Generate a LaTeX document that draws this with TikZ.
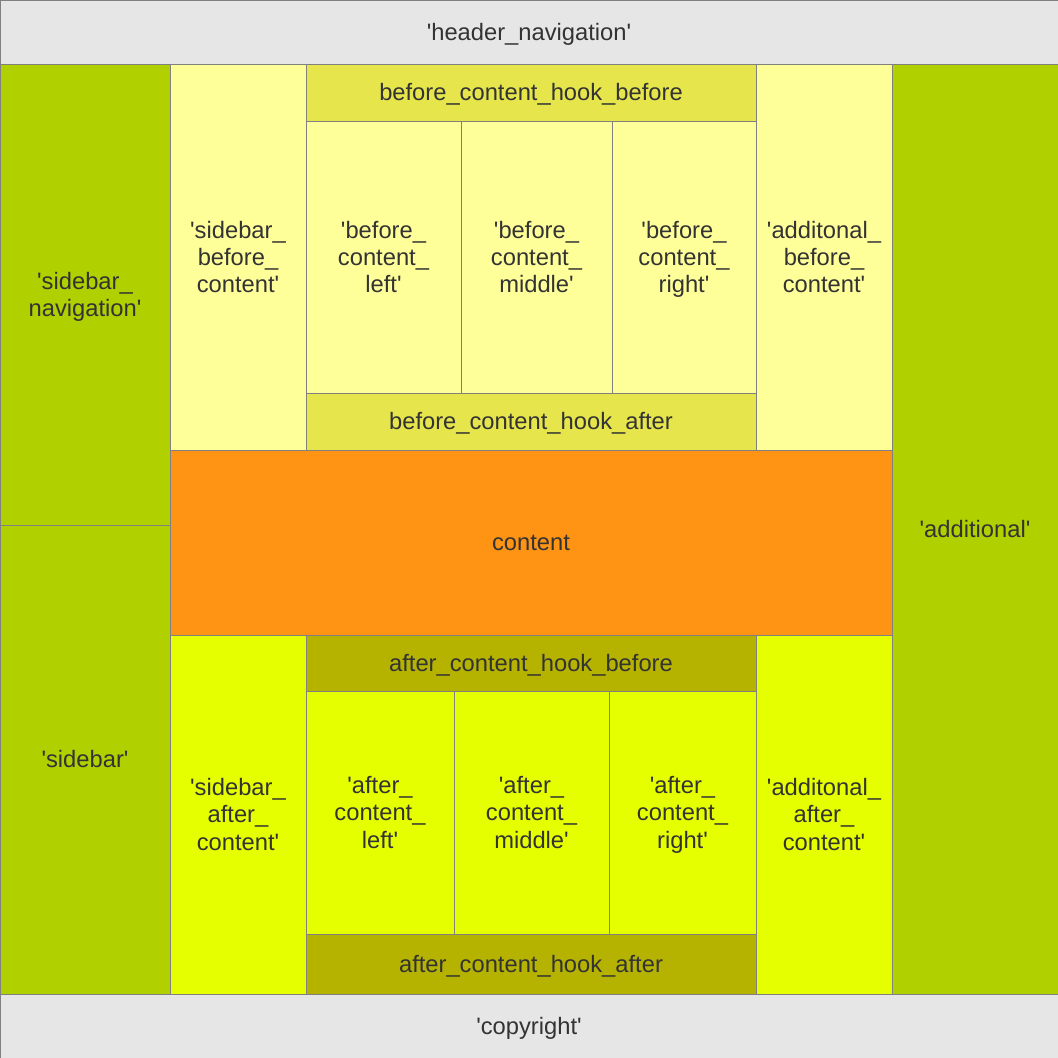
\documentclass[tikz,border=0pt]{standalone}
\usepackage{fontspec}
\setmainfont{Liberation Sans}
\newcommand\qq{\textquotesingle}
\newcommand\sr{\rule[-3.8pt]{0pt}{20.3pt}}
\definecolor{hdr}{HTML}{E6E6E6}
\definecolor{grn}{HTML}{B0D000}
\definecolor{lyel}{HTML}{FFFF99}
\definecolor{hookb}{HTML}{E6E64C}
\definecolor{org}{HTML}{FF9414}
\definecolor{byel}{HTML}{E6FF00}
\definecolor{olive}{HTML}{B5B300}
\definecolor{bord}{HTML}{808080}
\definecolor{txt}{HTML}{333333}
\newcommand\cell[7]{%
  \pgfmathsetmacro\cw{(#4-#2)*0.75}%
  \pgfmathsetmacro\ch{(#5-#3)*0.75}%
  \node[cellbox, fill=#6, minimum width=\cw pt, minimum height=\ch pt] (#1) at ({(#2+#4)/2},{(#3+#5)/2}) {\sr#7};}
\begin{document}
\begin{tikzpicture}[x=0.75pt,y=-0.75pt,
  cellbox/.style={draw=bord, line width=0.75pt, inner sep=0pt, outer sep=0pt, align=center,
    text=txt, font=\fontsize{17.8}{20.3}\selectfont}]
\useasboundingbox (0,0) rectangle (1058,1058);
\cell{header}{0}{0}{1058}{64}{hdr}{\qq header\_navigation\qq}
\cell{sidenav}{0}{64}{170}{525}{grn}{\qq sidebar\_\\\sr navigation\qq}
\cell{sidebar}{0}{525}{170}{994}{grn}{\qq sidebar\qq}
\cell{sbc}{170}{64}{306}{450}{lyel}{\qq sidebar\_\\\sr before\_\\\sr content\qq}
\cell{bchb}{306}{64}{756}{121}{hookb}{before\_content\_hook\_before}
\cell{bcl}{306}{121}{461}{393}{lyel}{\qq before\_\\\sr content\_\\\sr left\qq}
\cell{bcm}{461}{121}{612}{393}{lyel}{\qq before\_\\\sr content\_\\\sr middle\qq}
\cell{bcr}{612}{121}{756}{393}{lyel}{\qq before\_\\\sr content\_\\\sr right\qq}
\cell{bcha}{306}{393}{756}{450}{hookb}{before\_content\_hook\_after}
\cell{abc}{756}{64}{892}{450}{lyel}{\qq additonal\_\\\sr before\_\\\sr content\qq}
\cell{additional}{892}{64}{1058}{994}{grn}{\qq additional\qq}
\cell{content}{170}{450}{892}{635}{org}{content}
\cell{sac}{170}{635}{306}{994}{byel}{\qq sidebar\_\\\sr after\_\\\sr content\qq}
\cell{achb}{306}{635}{756}{691}{olive}{after\_content\_hook\_before}
\cell{acl}{306}{691}{454}{934}{byel}{\qq after\_\\\sr content\_\\\sr left\qq}
\cell{acm}{454}{691}{609}{934}{byel}{\qq after\_\\\sr content\_\\\sr middle\qq}
\cell{acr}{609}{691}{756}{934}{byel}{\qq after\_\\\sr content\_\\\sr right\qq}
\cell{acha}{306}{934}{756}{994}{olive}{after\_content\_hook\_after}
\cell{aac}{756}{635}{892}{994}{byel}{\qq additonal\_\\\sr after\_\\\sr content\qq}
\cell{copyright}{0}{994}{1058}{1058}{hdr}{\qq copyright\qq}
\end{tikzpicture}
\end{document}
